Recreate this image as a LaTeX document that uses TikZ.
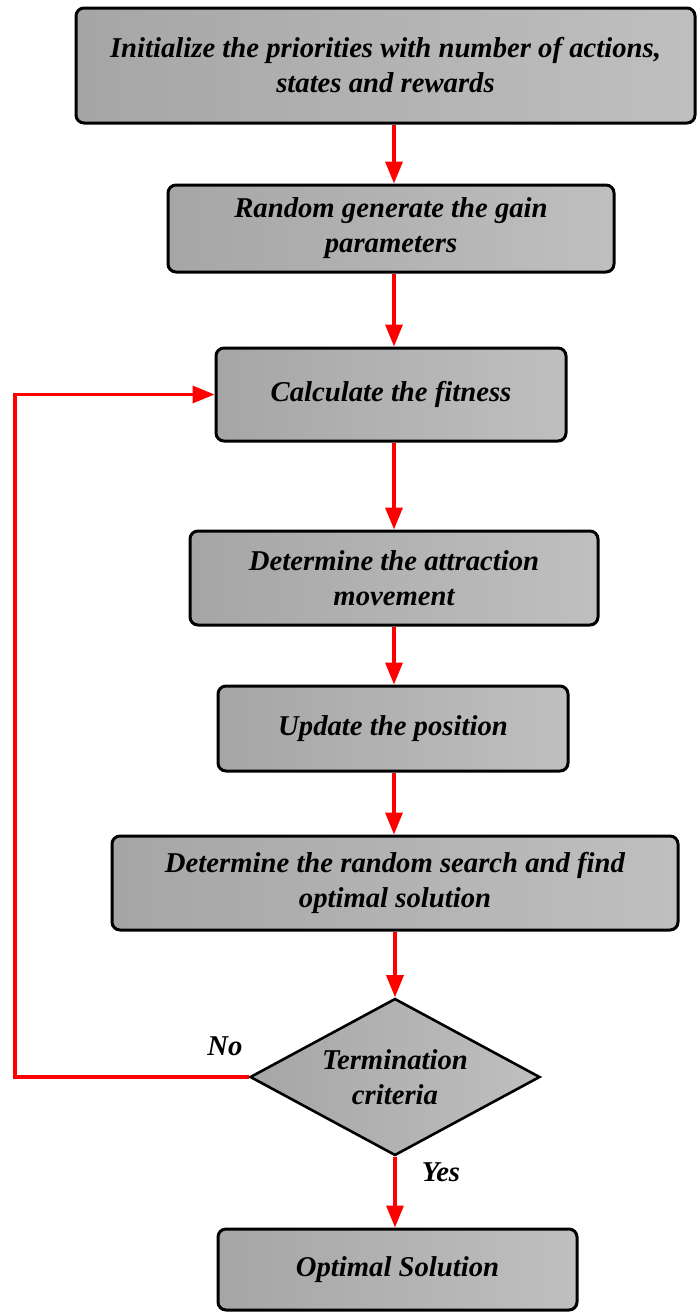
\documentclass[tikz,border=0pt]{standalone}
\usepackage{fontspec}
\setmainfont{Liberation Serif}
\usetikzlibrary{arrows.meta,shapes.geometric}
\begin{document}
\begin{tikzpicture}[x=1pt,y=-1pt,
  box/.style={draw=black,line width=3pt,rounded corners=8pt,shading=axis,left color=gray!70,right color=gray!50,
    align=center,inner sep=0pt,font=\fontsize{28.7}{35}\selectfont\bfseries\itshape},
  dec/.style={diamond,draw=black,line width=2.6pt,shading=axis,left color=gray!70,right color=gray!50,
    align=center,inner sep=0pt,font=\fontsize{28.7}{35}\selectfont\bfseries\itshape},
  arr/.style={draw=red,line width=3.4pt,-{Triangle[length=22pt,width=17pt]}},
  lbl/.style={font=\fontsize{28.7}{30}\selectfont\bfseries\itshape}]
\useasboundingbox (0,0) rectangle (699,1312);
\node[box,minimum width=619pt,minimum height=115pt] (n1) at (385.5,65.5) {Initialize the priorities with number of actions,\\states and rewards};
\node[box,minimum width=446pt,minimum height=87pt] (n2) at (391,228.5) {Random generate the gain\\parameters};
\node[box,minimum width=350pt,minimum height=93pt] (n3) at (391,394.5) {Calculate the fitness};
\node[box,minimum width=408pt,minimum height=94pt] (n4) at (394,578) {Determine the attraction\\movement};
\node[box,minimum width=350pt,minimum height=85pt] (n5) at (393,728.5) {Update the position};
\node[box,minimum width=566pt,minimum height=94pt] (n6) at (395,883) {Determine the random search and find\\optimal solution};
\node[dec,minimum width=290pt,minimum height=157pt,aspect=1.85] (n7) at (395,1077) {Termination\\criteria};
\node[box,minimum width=359pt,minimum height=81pt] (n8) at (397.5,1269.5) {Optimal Solution};
\coordinate (ax) at (394,0);
\coordinate (lx) at (15,0);
\draw[arr] (n1.south -| ax) -- (n2.north -| ax);
\draw[arr] (n2.south -| ax) -- (n3.north -| ax);
\draw[arr] (n3.south -| ax) -- (n4.north -| ax);
\draw[arr] (n4.south -| ax) -- (n5.north -| ax);
\draw[arr] (n5.south -| ax) -- (n6.north -| ax);
\draw[arr] (n6.south -| n7.north) -- (n7.north);
\draw[arr] (n7.south) -- (n8.north -| n7.south);
\draw[arr] (n7.west) -- (n7.west -| lx) |- (n3.west);
\node[lbl] (no) at (225,1046) {No};
\node[lbl] (yes) at (441,1172) {Yes};
\end{tikzpicture}
\end{document}
